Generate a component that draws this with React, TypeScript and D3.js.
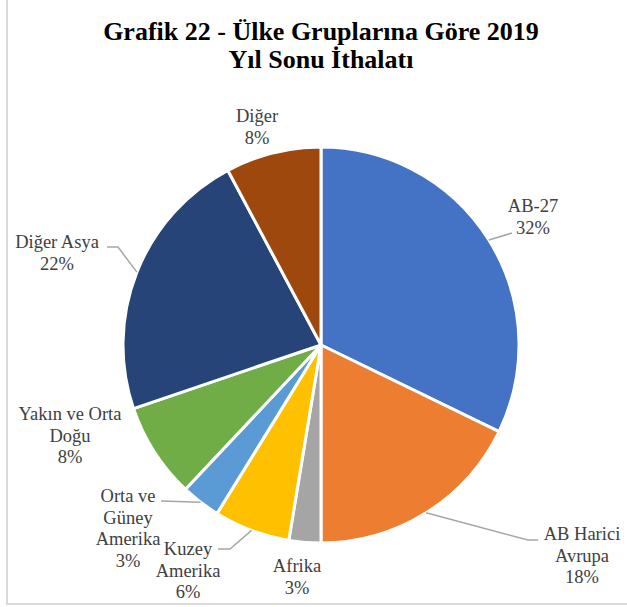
import React from "react";
import * as d3 from "d3";

const categories = [
  "AB-27",
  "AB Harici Avrupa",
  "Afrika",
  "Kuzey Amerika",
  "Orta ve Güney Amerika",
  "Yakın ve Orta Doğu",
  "Diğer Asya",
  "Diğer",
];
const values = [32.2, 17.8, 2.6, 6.2, 3.2, 7.8, 22.4, 7.8];
const colors = ["#4472C4", "#ED7D31", "#A5A5A5", "#FFC000", "#5B9BD5", "#70AD47", "#264478", "#9E480E"];
const labelLines = [
  ["AB-27"],
  ["AB Harici", "Avrupa"],
  ["Afrika"],
  ["Kuzey", "Amerika"],
  ["Orta ve", "Güney", "Amerika"],
  ["Yakın ve Orta", "Doğu"],
  ["Diğer Asya"],
  ["Diğer"],
];
// label layout: text centre x, first baseline y (relative to pie centre), leader: elbow offsets
const labelPos: [number, number][] = [
  [212, -133],
  [261, 195],
  [-24, 227],
  [-133, 210],
  [-193, 157],
  [-251, 75],
  [-264, -97],
  [-64, -223],
];
const leaderEnds: ([number, number][] | null)[] = [
  [[191, -112]],
  [[207, 195], [217, 195]],
  null,
  [[-91, 204], [-103, 204]],
  [[-160, 156]],
  null,
  [[-203, -98], [-214, -98]],
  null,
];

const W = 627;
const H = 607;
const cx = 321;
const cy = 345;
const R = 198;
const LH = 21.5;
const FONT = "'Liberation Serif', 'Times New Roman', Times, 'DejaVu Serif', serif";

export default function App() {
  const pie = d3.pie<number>().sort(null).value((d) => d);
  const arcs = pie(values);
  const arc = d3.arc<d3.PieArcDatum<number>>().innerRadius(0).outerRadius(R);
  return (
    <svg width={W} height={H} style={{ position: "absolute", left: 0, top: 0, background: "#fff" }}>
      <rect x={7} y={-5} width={700} height={609} fill="#fff" stroke="#D9D9D9" strokeWidth={2} />
      <text x={cx} y={40} textAnchor="middle" style={{ fontFamily: FONT }} fontWeight="bold" fontSize={26} fill="#000">
        Grafik 22 - Ülke Gruplarına Göre 2019
      </text>
      <text x={cx} y={68} textAnchor="middle" style={{ fontFamily: FONT }} fontWeight="bold" fontSize={26} fill="#000">
        Yıl Sonu İthalatı
      </text>
      <g transform={`translate(${cx},${cy})`}>
        {arcs.map((a, i) => (
          <path key={i} d={arc(a) || ""} fill={colors[i]} stroke="#fff" strokeWidth={3} strokeLinejoin="round" />
        ))}
        {arcs.map((a, i) => {
          const ends = leaderEnds[i];
          if (!ends) return null;
          const mid = (a.startAngle + a.endAngle) / 2;
          const sx = R * Math.sin(mid);
          const sy = -R * Math.cos(mid);
          const pts: [number, number][] = [[sx, sy], ...ends];
          return (
            <path key={"l" + i} d={d3.line()(pts) || ""} fill="none" stroke="#A6A6A6" strokeWidth={1.5} />
          );
        })}
        {arcs.map((a, i) => {
          const [lx, ly] = labelPos[i];
          const lines = [...labelLines[i], `${Math.round(values[i])}%`];
          return (
            <text key={"t" + i} x={lx} y={ly} textAnchor="middle" style={{ fontFamily: FONT }} fontSize={18.5} fill="#404040">
              {lines.map((s, j) => (
                <tspan key={j} x={lx} y={ly + j * LH}>
                  {s}
                </tspan>
              ))}
            </text>
          );
        })}
      </g>
    </svg>
  );
}
